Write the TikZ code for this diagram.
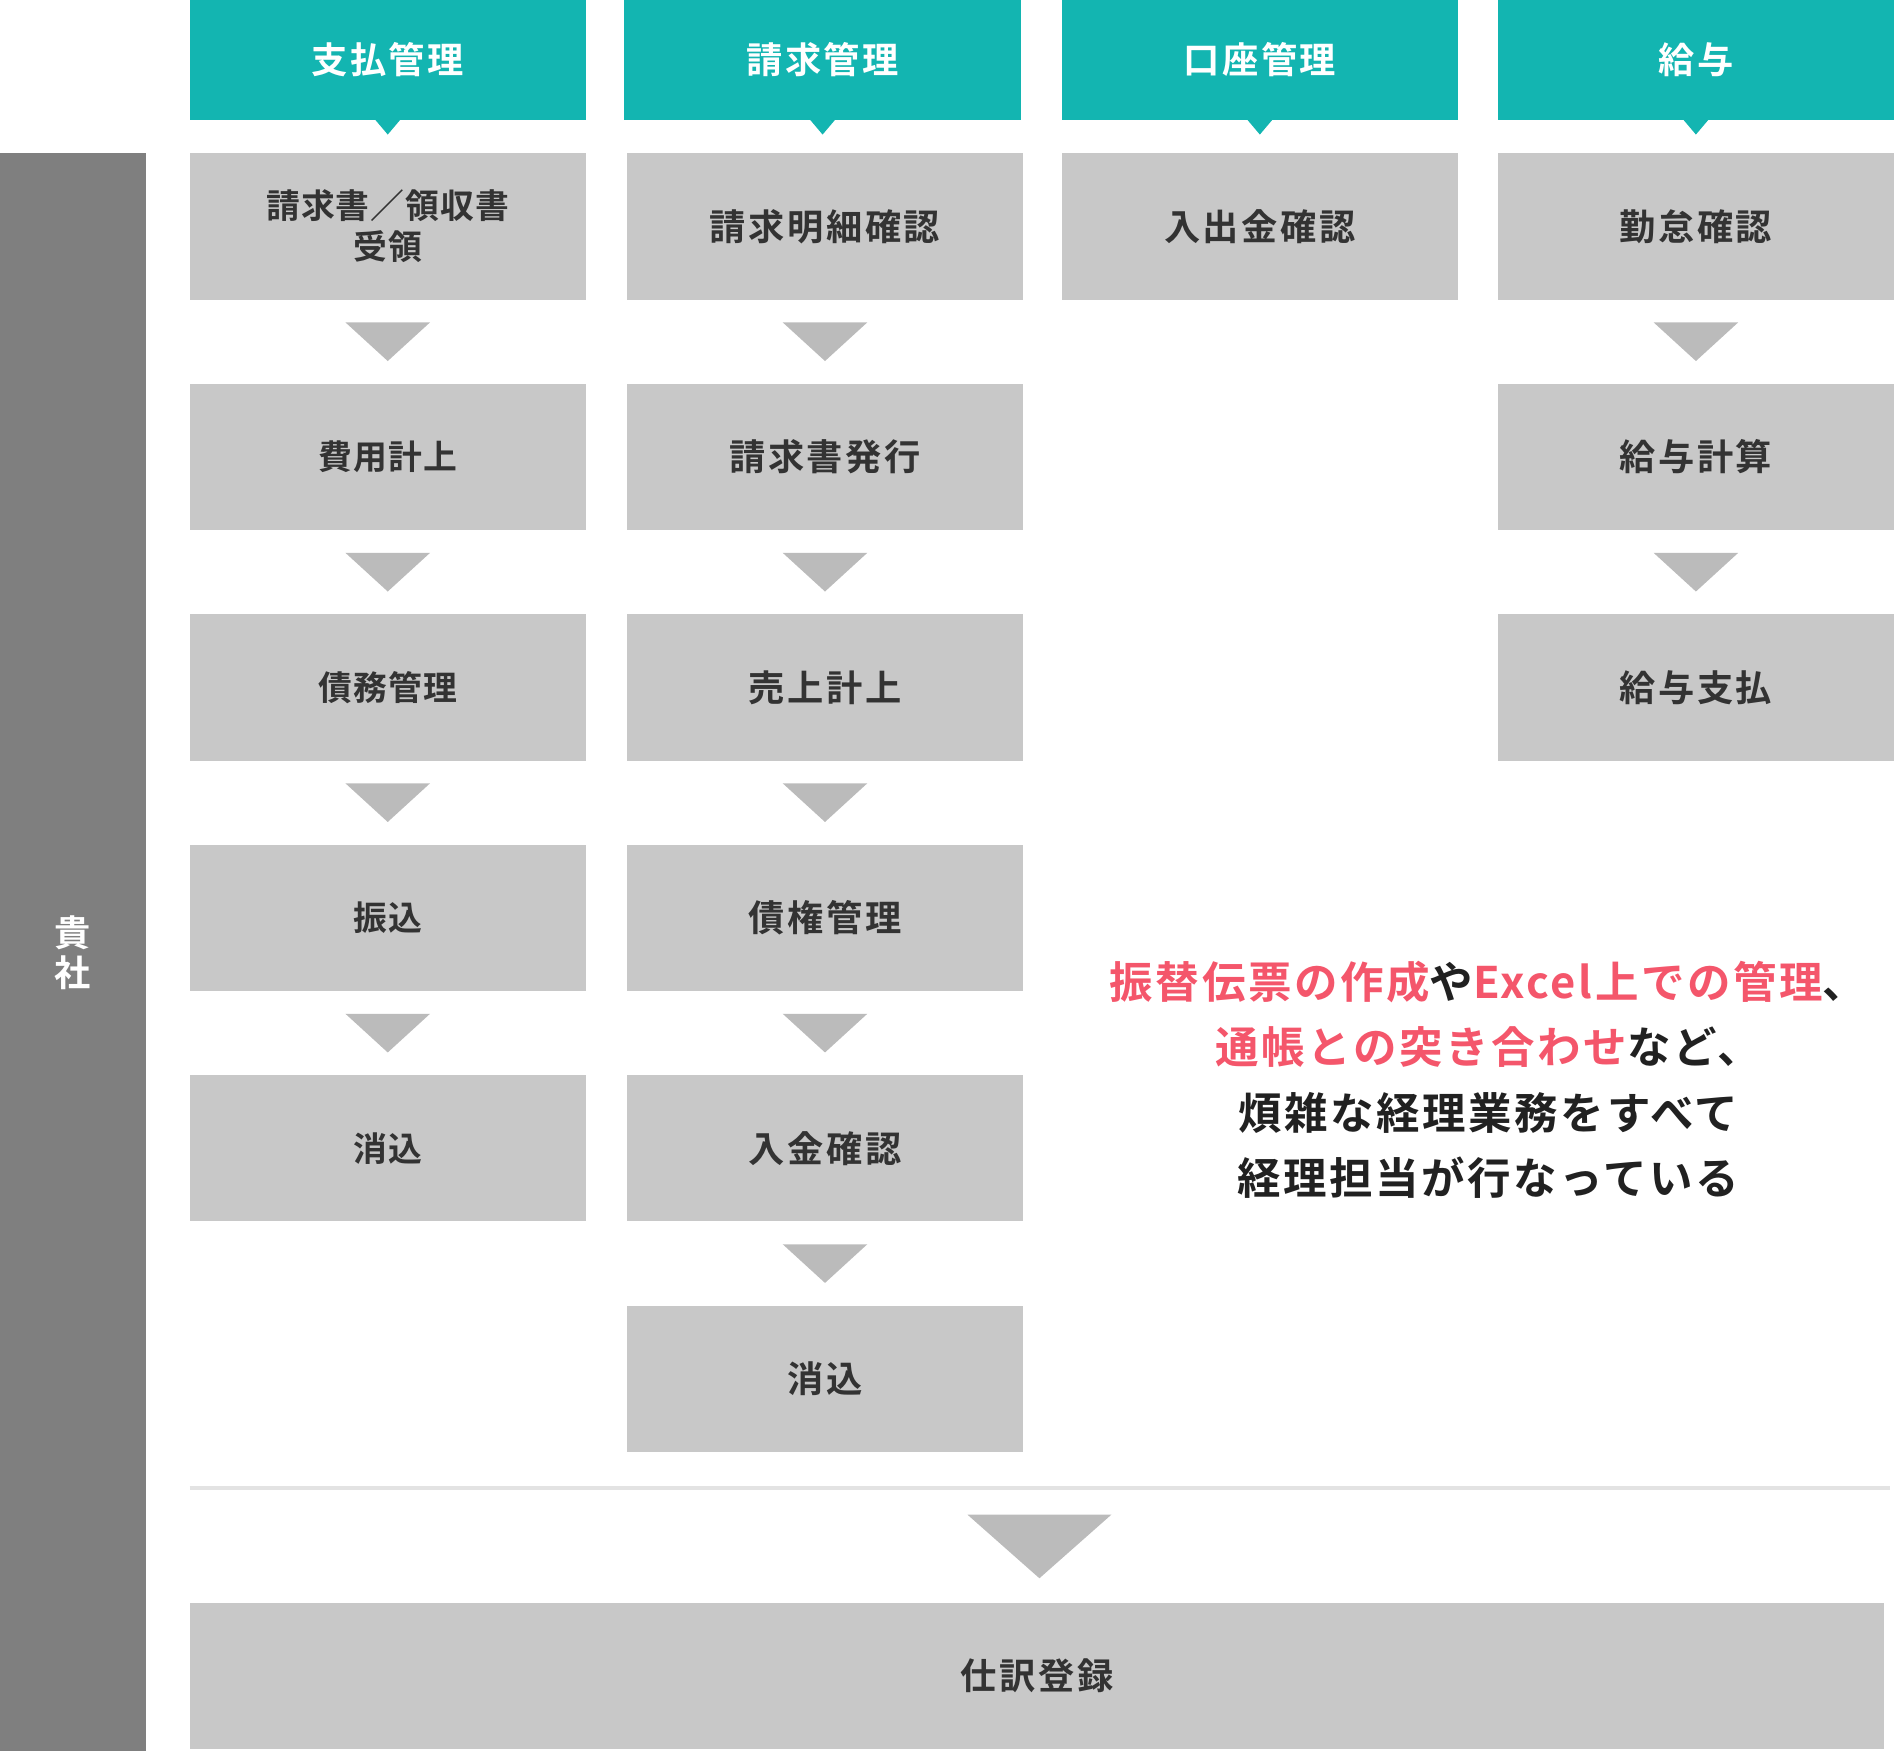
\documentclass[tikz,border=0pt]{standalone}
\usepackage{fontspec}
\setmainfont{Noto Sans CJK JP}
\newfontfamily\jpbox{Noto Sans CJK JP Bold}[LetterSpace=7]
\newfontfamily\jpboxs{Noto Sans CJK JP Bold}[LetterSpace=3]
\newfontfamily\jpnote{Noto Sans CJK JP Bold}[LetterSpace=6]
\usepackage{tikz}
\usetikzlibrary{calc}
\usetikzlibrary{positioning}
\definecolor{hdteal}{HTML}{13B5B1}
\definecolor{boxgray}{HTML}{C8C8C8}
\definecolor{trigray}{HTML}{BBBBBB}
\definecolor{bargray}{HTML}{7F7F7F}
\definecolor{hlpink}{HTML}{F4566B}
\definecolor{txtdark}{HTML}{333333}
\newcommand{\flowtri}[2]{\fill[trigray] ($(#1.south)!.5!(#2.north)$) +(-17.5pt,8pt) -- +(17.5pt,8pt) -- +(0,-8pt) -- cycle;}
\newcommand{\hdtip}[1]{\fill[hdteal] (#1.south) +(-5.5pt,0.5pt) -- +(5.5pt,0.5pt) -- +(0,-6pt) -- cycle;}

\begin{document}
\begin{tikzpicture}[x=0.5pt,y=-0.5pt,
    hd/.style={fill=hdteal,text=white,minimum width=164pt,minimum height=49.5pt,
      inner sep=0pt,font=\fontsize{15pt}{18pt}\jpbox},
    box/.style={fill=boxgray,text=txtdark,minimum width=164pt,minimum height=60.5pt,
      inner sep=0pt,align=center,font=\fontsize{15pt}{17pt}\jpbox},
    boxs/.style={box,font=\fontsize{14pt}{17pt}\jpboxs},
    node distance=34.5pt]
  \useasboundingbox (0,0) rectangle (1568,1450);
  % side bar
  \node[fill=bargray,text=white,minimum width=60.5pt,minimum height=661.5pt,inner sep=0pt,
    align=center,font=\fontsize{15pt}{16.5pt}\jpbox] (C) at (60.5,788.5) {貴\\社};
  % headers
  \node[hd] (H1) at (321,49.5) {支払管理};
  \node[hd] (H2) at (681,49.5) {請求管理};
  \node[hd] (H3) at (1043,49.5) {口座管理};
  \node[hd] (H4) at (1404,49.5) {給与};
  \foreach \h in {H1,H2,H3,H4} {\hdtip{\h}}
  % column 1
  \node[boxs] (P1) at (321,187.5) {請求書／領収書\\受領};
  \node[boxs,below=of P1] (P2) {費用計上};
  \node[boxs,below=of P2] (P3) {債務管理};
  \node[boxs,below=of P3] (P4) {振込};
  \node[boxs,below=of P4] (P5) {消込};
  % column 2
  \node[box] (B1) at (683,187.5) {請求明細確認};
  \node[box,below=of B1] (B2) {請求書発行};
  \node[box,below=of B2] (B3) {売上計上};
  \node[box,below=of B3] (B4) {債権管理};
  \node[box,below=of B4] (B5) {入金確認};
  \node[box,below=of B5] (B6) {消込};
  % column 3
  \node[box] (A1) at (1043,187.5) {入出金確認};
  % column 4
  \node[box] (S1) at (1404,187.5) {勤怠確認};
  \node[box,below=of S1] (S2) {給与計算};
  \node[box,below=of S2] (S3) {給与支払};
  \flowtri{P1}{P2} \flowtri{P2}{P3} \flowtri{P3}{P4} \flowtri{P4}{P5}
  \flowtri{B1}{B2} \flowtri{B2}{B3} \flowtri{B3}{B4} \flowtri{B4}{B5} \flowtri{B5}{B6}
  \flowtri{S1}{S2} \flowtri{S2}{S3}
  % note
  \node[align=center,text=black!87,font=\fontsize{18pt}{27pt}\jpnote] (N) at (1232,894)
    {{\color{hlpink}振替伝票の作成}や{\color{hlpink}Excel上での管理}、\\
     {\color{hlpink}通帳との突き合わせ}など、\\
     煩雑な経理業務をすべて\\
     経理担当が行なっている};
  % journal entry
  \draw[line width=1.5pt,black!11] (157,1232) -- (1565,1232);
  \node[box,minimum width=701.5pt] (J) at (858.5,1387.5) {仕訳登録};
  \fill[trigray] (801,1254) -- (920,1254) -- ($(J.north)+(1pt,10pt)$) -- cycle;
\end{tikzpicture}
\end{document}
